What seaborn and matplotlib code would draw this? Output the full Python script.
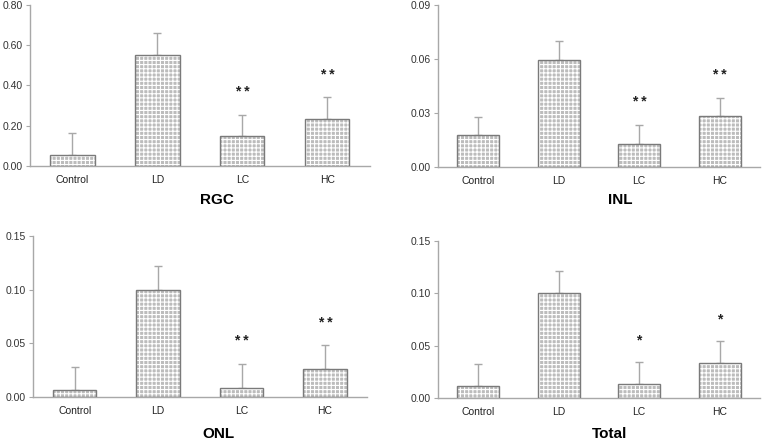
import numpy as np
import pandas as pd
import matplotlib
matplotlib.use("Agg")
import matplotlib.pyplot as plt
import seaborn as sns

# Data
groups = ["Control", "LD", "LC", "HC"]

rgc_mean = [0.055, 0.55, 0.148, 0.236]
rgc_err = [0.109, 0.108, 0.108, 0.105]

inl_mean = [0.0175, 0.0595, 0.0128, 0.0282]
inl_err = [0.0105, 0.0105, 0.0107, 0.0103]

onl_mean = [0.006, 0.100, 0.008, 0.026]
onl_err = [0.022, 0.022, 0.023, 0.022]

total_mean = [0.011, 0.100, 0.013, 0.033]
total_err = [0.021, 0.021, 0.021, 0.021]

rgc_stars = ["", "", "**", "**"]
inl_stars = ["", "", "**", "**"]
onl_stars = ["", "", "**", "**"]
total_stars = ["", "", "*", "*"]

titles = ["RGC", "INL", "ONL", "Total"]
y_max = [0.80, 0.09, 0.15, 0.15]
y_step = [0.20, 0.03, 0.05, 0.05]

sns.set_style("white")
plt.rcParams["font.family"] = ["Liberation Sans", "DejaVu Sans"]
plt.rcParams["hatch.linewidth"] = 0.8

fig = plt.figure(figsize=(7.77, 4.43), dpi=100)

# axes boxes [left, bottom, width, height] in figure fractions
boxes = [
    [0.0386, 0.625, 0.4374, 0.364],
    [0.5637, 0.623, 0.4143, 0.366],
    [0.0425, 0.104, 0.4295, 0.363],
    [0.5637, 0.1016, 0.4143, 0.3544],
]
# title baselines
title_pos = [(0.279, 0.5395), (0.798, 0.5395), (0.281, 0.012), (0.785, 0.012)]

panels = [
    (rgc_mean, rgc_err, rgc_stars),
    (inl_mean, inl_err, inl_stars),
    (onl_mean, onl_err, onl_stars),
    (total_mean, total_err, total_stars),
]

for i, (means, errs, stars) in enumerate(panels):
    ax = fig.add_axes(boxes[i])
    df = pd.DataFrame({"group": groups, "value": means})

    # error bars (upper only) behind the bars
    ax.errorbar(range(len(groups)), means, yerr=[np.zeros(len(errs)), errs],
                fmt="none", ecolor="#a8a8a8", elinewidth=1, capsize=3,
                capthick=1, zorder=1)

    # patterned fill, then a plain outline on top
    sns.barplot(data=df, x="group", y="value", ax=ax, width=0.52,
                color="#bcbcbc", saturation=1, edgecolor="white",
                linewidth=0, hatch="++++", zorder=2)
    sns.barplot(data=df, x="group", y="value", ax=ax, width=0.52,
                fill=False, edgecolor="#7a7a7a", linewidth=1, zorder=3)

    for x, (m, e, s) in enumerate(zip(means, errs, stars)):
        if s:
            ax.annotate(" ".join(s), (x, m + e), xytext=(0, 16),
                        textcoords="offset points", ha="center", va="center",
                        fontsize=10, fontweight="bold", color="#222222")

    ax.set_xlim(-0.5, 3.5)
    ax.set_ylim(0, y_max[i])
    ax.set_yticks(np.arange(0, y_max[i] + 1e-9, y_step[i]))
    ax.yaxis.set_major_formatter(matplotlib.ticker.FormatStrFormatter("%.2f"))
    ax.set_xlabel("")
    ax.set_ylabel("")
    ax.tick_params(axis="y", left=True, length=3, color="#a8a8a8",
                   labelsize=7.5, labelcolor="#333333", pad=2)
    ax.tick_params(axis="x", bottom=False, labelsize=7.5,
                   labelcolor="#222222", pad=3)
    for side in ["top", "right"]:
        ax.spines[side].set_visible(False)
    for side in ["left", "bottom"]:
        ax.spines[side].set_color("#a8a8a8")
        ax.spines[side].set_linewidth(1)

    fig.text(title_pos[i][0], title_pos[i][1], titles[i], ha="center",
             va="baseline", fontsize=11, fontweight="bold", color="black")

fig.savefig("out.png", dpi=100)
